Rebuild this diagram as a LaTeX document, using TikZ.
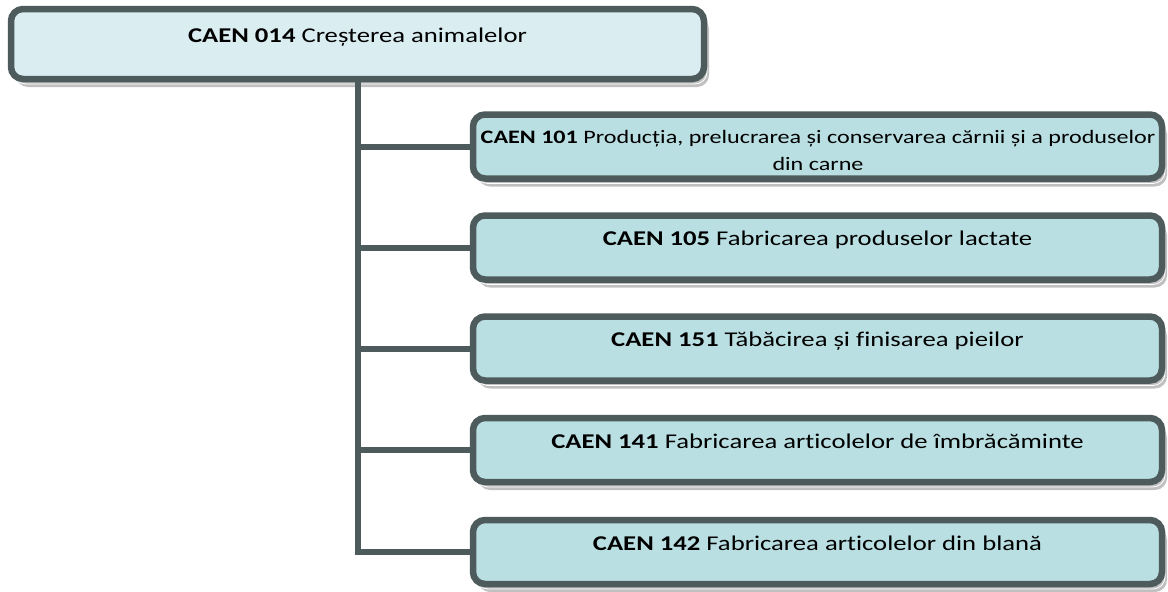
\documentclass[tikz,border=0pt]{standalone}
\usepackage{fontspec}
\setmainfont{Carlito}[FakeStretch=1.27,Ligatures=NoCommon]
\usetikzlibrary{shadows}
\definecolor{bord}{HTML}{4E5B5C}
\definecolor{topfill}{HTML}{DAEDF1}
\definecolor{childfill}{HTML}{B9DFE2}
\definecolor{shadowc}{HTML}{C0C0C0}
\begin{document}
\begin{tikzpicture}[x=1pt,y=-1pt,
  boxshadow/.style={general shadow={shadow xshift=5pt,shadow yshift=-8pt,fill=shadowc,draw=none},
                    general shadow={shadow xshift=3pt,shadow yshift=-5pt,fill=none,draw=white,line width=0.8pt}},
  topbox/.style={draw=bord,fill=topfill,line width=6.5pt,rounded corners=12pt,
                 minimum width=693pt,minimum height=70pt,inner sep=0pt,boxshadow},
  childbox/.style={draw=bord,fill=childfill,line width=6.5pt,rounded corners=12pt,
                 minimum width=689pt,minimum height=64pt,inner sep=0pt,boxshadow},
  conn/.style={draw=bord,line width=6pt},
  lbl/.style={anchor=base,inner sep=0pt,font=\fontsize{21}{25}\selectfont},
  lblsmall/.style={anchor=base,inner sep=0pt,font=\fontsize{19}{23}\selectfont}]
\useasboundingbox (0,0) rectangle (1168,592);
% boxes
\node[topbox] (top) at (357.5,44) {};
\node[childbox] (c1) at (817.5,146.5) {};
\node[childbox] (c2) at (817.5,247.5) {};
\node[childbox] (c3) at (817.5,348.5) {};
\node[childbox] (c4) at (817.5,450) {};
\node[childbox] (c5) at (817.5,552) {};
% connectors
\draw[conn] (top.south) -- (top.south |- c5.west) -- (c5.west);
\draw[conn] (top.south |- c1.west) -- (c1.west);
\draw[conn] (top.south |- c2.west) -- (c2.west);
\draw[conn] (top.south |- c3.west) -- (c3.west);
\draw[conn] (top.south |- c4.west) -- (c4.west);
% labels
\node[lbl] (t0) at (357.5,42) {\textbf{CAEN 014} Creșterea animalelor};
\node[lblsmall] (t1a) at (818,143) {\textbf{CAEN 101} Producția, prelucrarea și conservarea cărnii și a produselor};
\node[lblsmall] (t1b) at (818,170) {din carne};
\node[lbl] (t2) at (817.5,245) {\textbf{CAEN 105} Fabricarea produselor lactate};
\node[lbl] (t3) at (817.5,346) {\textbf{CAEN 151} Tăbăcirea și finisarea pieilor};
\node[lbl] (t4) at (817.5,448) {\textbf{CAEN 141} Fabricarea articolelor de îmbrăcăminte};
\node[lbl] (t5) at (817.5,550) {\textbf{CAEN 142} Fabricarea articolelor din blană};
\end{tikzpicture}
\end{document}
